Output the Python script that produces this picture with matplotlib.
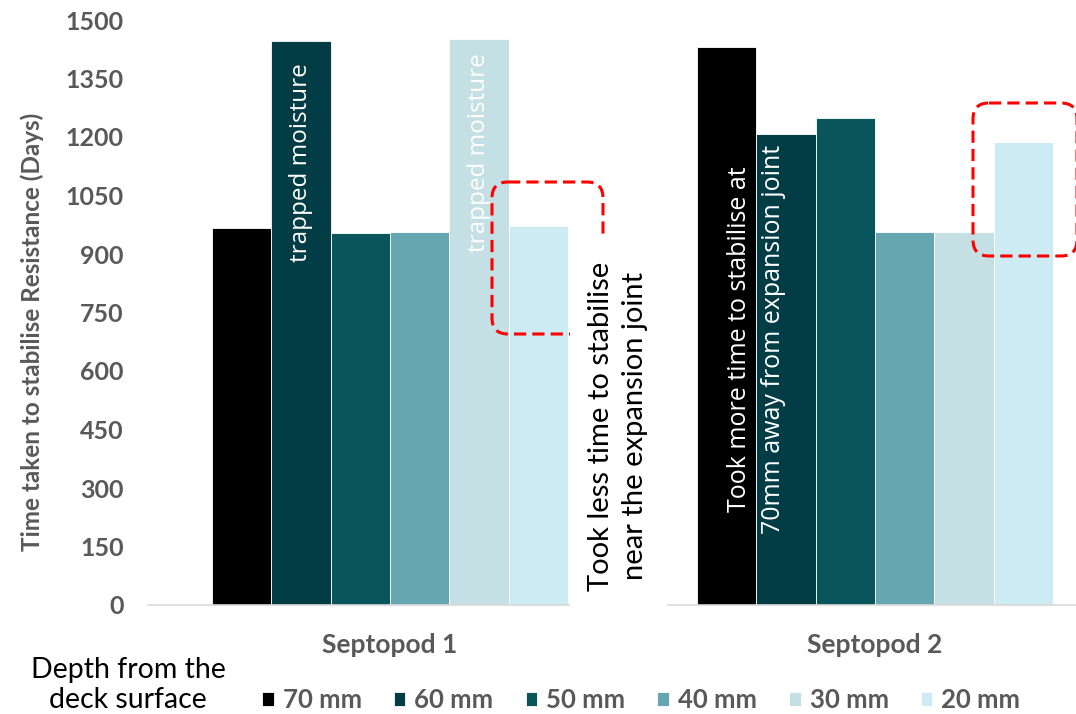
import numpy as np
import matplotlib
matplotlib.use('Agg')
import matplotlib.pyplot as plt
from matplotlib.patches import FancyBboxPatch, Rectangle
from matplotlib.transforms import Affine2D

# time to stabilise resistance (days) per septopod, one list per depth
septopods = ['Septopod 1', 'Septopod 2']
depths = ['70 mm', '60 mm', '50 mm', '40 mm', '30 mm', '20 mm']
days_70 = [967, 1432]
days_60 = [1447, 1207]
days_50 = [954, 1250]
days_40 = [957, 957]
days_30 = [1451, 956]
days_20 = [972, 1186]
yticks = list(range(0, 1501, 150))

colors = ['#000000', '#023d46', '#08565b', '#65a6b0', '#c4e0e5', '#ccebf2']
grey = '#595959'
font = 'Lato'

W, H = 1076, 714
fig = plt.figure(figsize=(W/100, H/100), dpi=100)
# plot area runs past the right edge of the figure
ax = fig.add_axes([147.5/W, 1-605/H, 970/W, 585/H])

series = [days_70, days_60, days_50, days_40, days_30, days_20]
x = np.arange(len(septopods))
bw = 0.734/len(series)
bars = []
for i, (vals, c, lab) in enumerate(zip(series, colors, depths)):
    b = ax.bar(x + (i-2.5)*bw, vals, bw, color=c, edgecolor='white',
               linewidth=0.6, label=lab, zorder=2)
    bars.append(b)

ax.set_xlim(-0.5, 1.5)
ax.set_ylim(0, 1500)
ax.set_yticks(yticks)
ax.set_yticklabels([str(t) for t in yticks], fontfamily=font, fontweight='bold',
                   fontsize=18, color=grey)
ax.set_xticks(x)
ax.set_xticklabels(septopods, fontfamily=font, fontweight='bold', fontsize=19,
                   color=grey)
ax.tick_params(axis='y', length=0, pad=17)
ax.tick_params(axis='x', length=0, pad=20)
for s in ['top', 'right', 'left']:
    ax.spines[s].set_visible(False)
ax.spines['bottom'].set_color('#d9d9d9')
ax.spines['bottom'].set_linewidth(1.2)

fig.text(32/W, 1-332/H, 'Time taken to stabilise Resistance (Days)', rotation=90,
         ha='center', va='center', fontfamily=font, fontweight='bold',
         fontsize=17.5, color=grey)

# notes written inside the bars
note = dict(rotation=90, ha='center', color='white', fontfamily='Open Sans',
            zorder=3)
ax.text(x[0] - 1.5*bw, 1447 - 58, 'trapped moisture', va='top', fontsize=17.5, **note)
ax.text(x[0] + 1.5*bw, 1451 - 36, 'trapped moisture', va='top', fontsize=17.5, **note)
ax.text(x[1] - 2.0*bw, 682, 'Took more time to stabilise at\n70mm away from expansion joint',
        va='center', linespacing=1.45, fontsize=18, **note)

# annotation frames in pixel coordinates (origin top-left)
px = Affine2D().scale(1/W, -1/H).translate(0, 1) + fig.transFigure
for (x0, y0, x1, y1) in [(492, 182, 603, 334), (973, 103, 1077, 256)]:
    fig.patches.append(FancyBboxPatch((x0, y0), x1-x0, y1-y0,
                                      boxstyle='round,pad=0,rounding_size=16',
                                      transform=px, fill=False, edgecolor='#ff0000',
                                      linestyle=(0, (4, 2)), linewidth=2.2, zorder=4))
fig.patches.append(Rectangle((570, 234), 97, 378, transform=px, facecolor='white',
                             edgecolor='none', zorder=5))
fig.text(618/W, 1-426/H, 'Took less time to stabilise\nnear the expansion joint',
         rotation=90, ha='center', va='center', multialignment='center',
         fontfamily=font, fontsize=21, color='black', linespacing=1.38, zorder=6)

# legend
fig.text(128/W, 1-685/H, 'Depth from the\ndeck surface', ha='center', va='center',
         fontfamily=font, fontsize=20.5, color='black', linespacing=1.22)
fig.legend(handles=bars, labels=depths, loc='center left',
           bbox_to_anchor=(262/W, 1-700/H), ncol=6, frameon=False,
           handlelength=0.45, handleheight=0.45, handletextpad=0.35,
           columnspacing=1.25, borderaxespad=0, borderpad=0,
           prop={'family': font, 'weight': 'bold', 'size': 18.5},
           labelcolor=grey)

fig.savefig('out.png', dpi=100)
